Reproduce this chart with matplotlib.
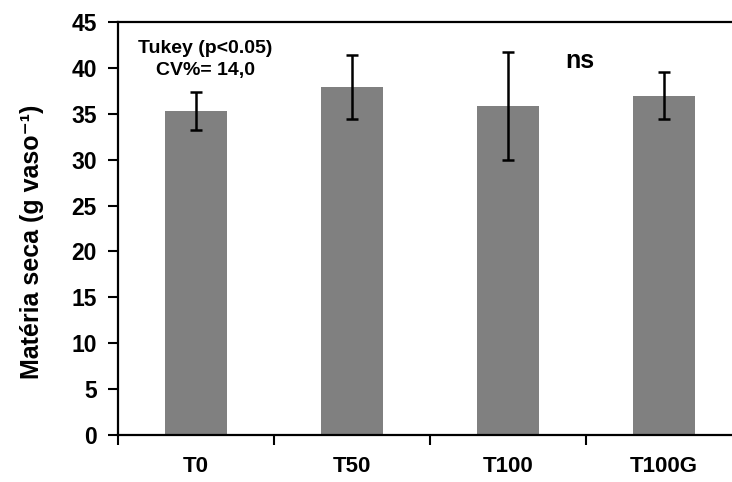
import matplotlib
matplotlib.use("Agg")
import matplotlib.pyplot as plt
import numpy as np

# Dry matter per pot for each treatment
treatments = ["T0", "T50", "T100", "T100G"]
dry_matter = [35.3, 37.9, 35.9, 37.0]
std_error = [2.1, 3.5, 5.9, 2.6]
y_ticks = [0, 5, 10, 15, 20, 25, 30, 35, 40, 45]

plt.rcParams["font.family"] = ["Liberation Sans", "DejaVu Sans"]
plt.rcParams["font.weight"] = "bold"

fig = plt.figure(figsize=(7.32, 4.82), dpi=100)
ax = fig.add_axes([0.1608, 0.0981, 0.8525, 0.8556])

x = np.arange(len(treatments))
ax.bar(x, dry_matter, width=0.4, color="#808080", zorder=2)
ax.errorbar(x, dry_matter, yerr=std_error, fmt="none", ecolor="black",
            elinewidth=1.8, capsize=4, capthick=1.8, zorder=3)

ax.set_xlim(-0.5, len(treatments) - 0.5)
ax.set_ylim(0, 45)
ax.set_yticks(y_ticks)
ax.set_yticklabels([str(v) for v in y_ticks], fontsize=16.5, fontweight="bold")
ax.set_xticks(x)
ax.set_xticklabels(treatments, fontsize=16, fontweight="bold")
ax.set_xticks(np.arange(-0.5, len(treatments), 1.0), minor=True)
ax.tick_params(axis="x", which="major", length=0, pad=15)
ax.tick_params(axis="x", which="minor", length=7, width=1.5, direction="out")
ax.tick_params(axis="y", which="major", length=7, width=1.5, direction="out", pad=8)

for spine in ax.spines.values():
    spine.set_linewidth(1.6)

fig.text(32 / 732, 1 - 242 / 482, "Matéria seca (g vaso\u207b\u00b9)",
         rotation=90, ha="center", va="center", fontsize=18, fontweight="bold")

ax.text(0.06, 41.62, "Tukey (p<0.05)", ha="center", va="baseline",
        fontsize=14, fontweight="bold")
ax.text(0.06, 39.25, "CV%= 14,0", ha="center", va="baseline",
        fontsize=14, fontweight="bold")
ax.text(2.46, 39.98, "ns", ha="center", va="baseline", fontsize=18, fontweight="bold")

fig.savefig("out.png", dpi=100)
